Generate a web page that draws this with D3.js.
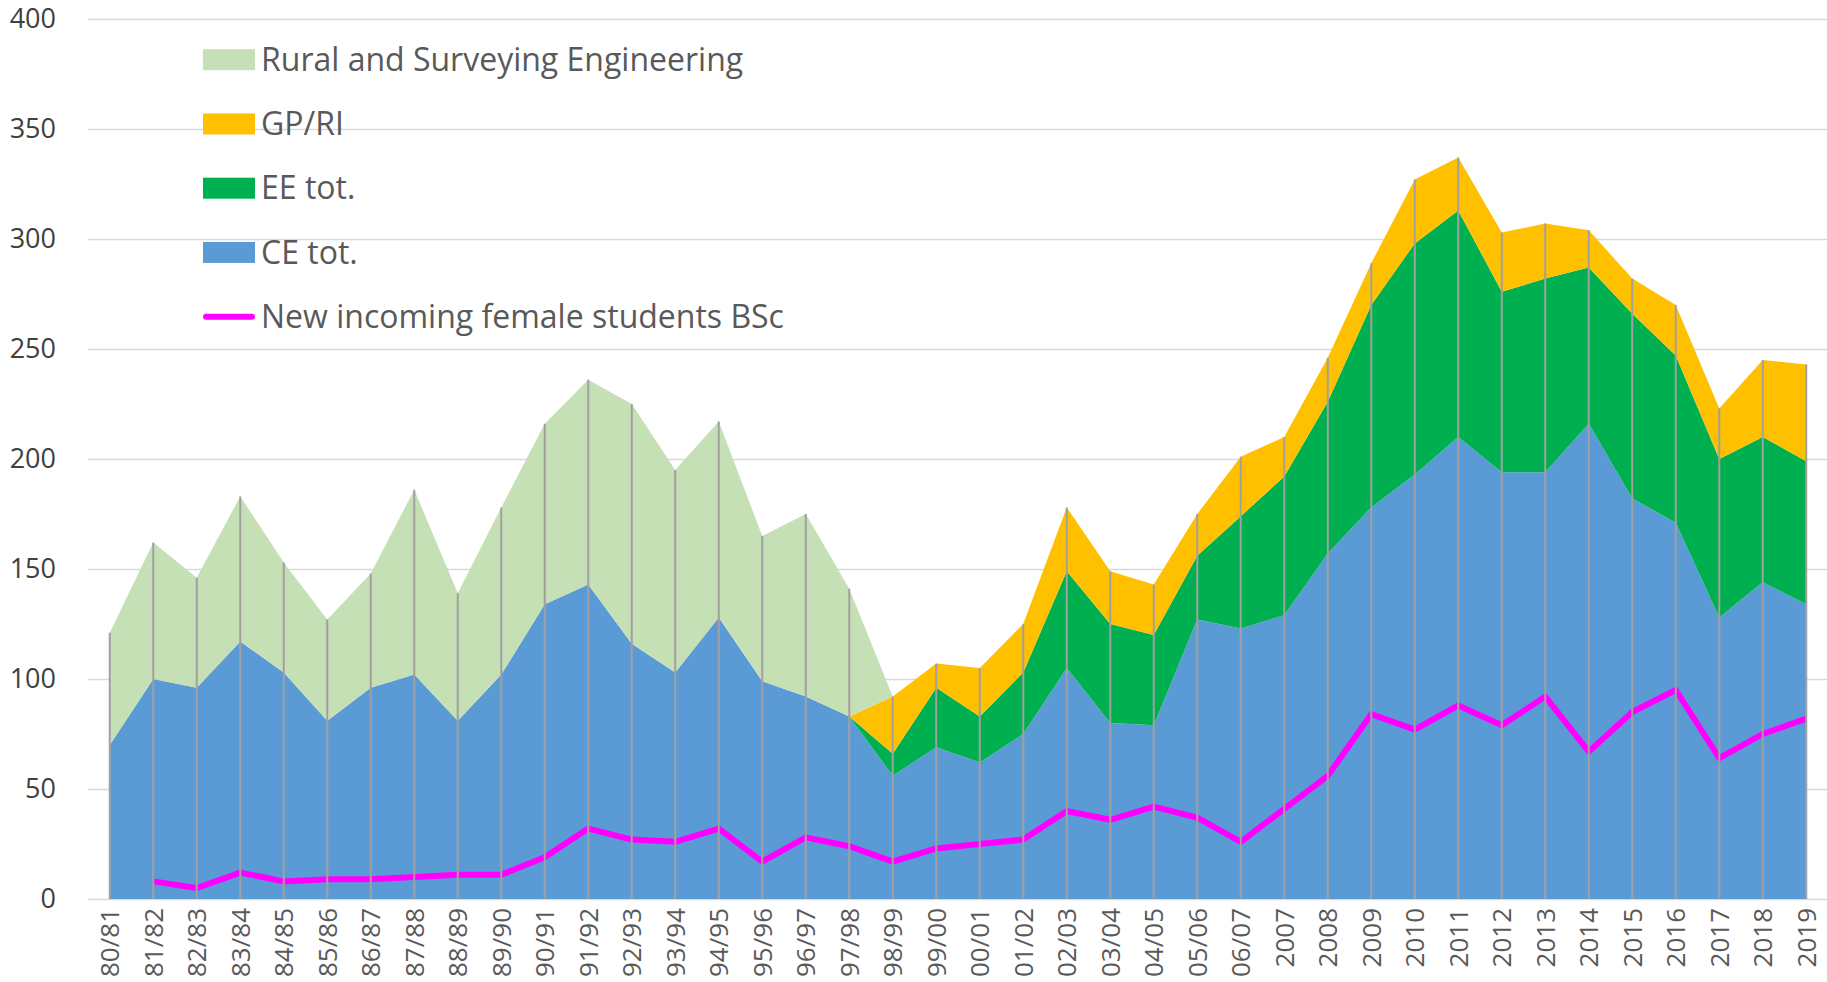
<!DOCTYPE html>
<html>
<head>
	<meta charset="utf-8">
	<title>Students</title>
	<script src="https://d3js.org/d3.v7.min.js"></script>
	<style>
		body {
		  margin: 0;
		  background: #fff;
		}
		svg {
		  display: block;
		}
		text {
		  font-family: 'Open Sans', sans-serif;
		  fill: #595959;
		}
		.grid line {
		  stroke: #D9D9D9;
		  stroke-width: 1.5;
		}
		.grid text {
		  font-size: 27px;
		  fill: #404040;
		}
		.xaxis text {
		  font-size: 26px;
		}
		.drop {
		  stroke: #A0A0A0;
		  stroke-width: 2;
		}
		.female {
		  fill: none;
		  stroke: #FF00FF;
		  stroke-width: 6;
		  stroke-linejoin: round;
		}
		.legend text {
		  font-size: 32px;
		}
	</style>
</head>
<body>
	<svg width="1827" height="982"></svg>
<script>
	// categories on the x axis
	const years = [ '80/81', '81/82', '82/83', '83/84', '84/85', '85/86', '86/87', '87/88', '88/89', '89/90',
	  '90/91', '91/92', '92/93', '93/94', '94/95', '95/96', '96/97', '97/98', '98/99', '99/00',
	  '00/01', '01/02', '02/03', '03/04', '04/05', '05/06', '06/07', '2007', '2008', '2009',
	  '2010', '2011', '2012', '2013', '2014', '2015', '2016', '2017', '2018', '2019' ];

	// stacked series (bottom to top)
	const ceTot = [ 70, 100, 96, 117, 103, 81, 96, 102, 81, 102,
	  134, 143, 116, 103, 128, 99, 92, 83, 56, 69,
	  62, 75, 105, 80, 79, 127, 123, 129, 157, 178,
	  193, 210, 194, 194, 216, 182, 171, 128, 144, 134 ];
	const eeTot = [ 0, 0, 0, 0, 0, 0, 0, 0, 0, 0,
	  0, 0, 0, 0, 0, 0, 0, 0, 10, 27,
	  21, 28, 44, 45, 41, 29, 51, 63, 69, 92,
	  105, 103, 82, 88, 71, 84, 76, 72, 66, 65 ];
	const gpRi = [ 0, 0, 0, 0, 0, 0, 0, 0, 0, 0,
	  0, 0, 0, 0, 0, 0, 0, 0, 26, 11,
	  22, 22, 29, 24, 23, 19, 27, 18, 20, 19,
	  29, 24, 27, 25, 17, 16, 23, 23, 35, 44 ];
	const rural = [ 51, 62, 50, 66, 50, 46, 52, 84, 58, 76,
	  82, 93, 109, 92, 89, 66, 83, 58, 0, 0,
	  0, 0, 0, 0, 0, 0, 0, 0, 0, 0,
	  0, 0, 0, 0, 0, 0, 0, 0, 0, 0 ];

	// line series (no value for the first year)
	const female = [ null, 8, 5, 12, 8, 9, 9, 10, 11, 11,
	  19, 32, 27, 26, 32, 17, 28, 24, 17, 23,
	  25, 27, 40, 36, 42, 37, 26, 41, 56, 84,
	  77, 88, 79, 92, 67, 85, 95, 64, 75, 82 ];

	const yTicks = [ 0, 50, 100, 150, 200, 250, 300, 350, 400 ];

	const keys = [ 'ce', 'ee', 'gp', 'rural' ];
	const colors = { ce: '#5B9BD5', ee: '#00B050', gp: '#FFC000', rural: '#C5E0B4' };

	const rows = years.map( ( yr, i ) => ( { year: yr, ce: ceTot[i], ee: eeTot[i], gp: gpRi[i], rural: rural[i] } ) );

	const svg = d3.select( 'svg' );

	const plotLeft = 88, plotRight = 1827, plotTop = 19, plotBottom = 899;

	const x = d3.scalePoint()
	  .domain( years )
	  .range( [ plotLeft, plotRight + 1 ] )
	  .padding( 0.5 );

	const y = d3.scaleLinear()
	  .domain( [ 0, 400 ] )
	  .range( [ plotBottom, plotTop ] );

	// gridlines + y labels
	const grid = svg.append( 'g' )
	  .attr( 'class', 'grid' )
	  .attr( 'transform', `translate( ${ plotLeft }, 0 )` )
	  .call( d3.axisLeft( y )
	    .tickValues( yTicks )
	    .tickSizeInner( -( plotRight - plotLeft ) )
	    .tickSizeOuter( 0 )
	    .tickPadding( 32 ) );
	grid.select( '.domain' ).remove();

	const stacked = d3.stack().keys( keys )( rows );

	const area = d3.area()
	  .x( ( d ) => x( d.data.year ) )
	  .y0( ( d ) => y( d[0] ) )
	  .y1( ( d ) => y( d[1] ) );

	svg.append( 'g' )
	  .selectAll( 'path' )
	  .data( stacked )
	  .join( 'path' )
	  .attr( 'fill', ( s ) => colors[ s.key ] )
	  .attr( 'd', area );

	// female students line
	const line = d3.line()
	  .defined( ( d ) => d !== null )
	  .x( ( d, i ) => x( years[i] ) )
	  .y( ( d ) => y( d ) );

	svg.append( 'path' )
	  .attr( 'class', 'female' )
	  .attr( 'd', line( female ) );

	// drop lines from the top of the stack
	const tops = stacked[ stacked.length - 1 ];
	svg.append( 'g' )
	  .selectAll( 'line' )
	  .data( tops )
	  .join( 'line' )
	  .attr( 'class', 'drop' )
	  .attr( 'x1', ( d ) => x( d.data.year ) )
	  .attr( 'x2', ( d ) => x( d.data.year ) )
	  .attr( 'y1', y( 0 ) )
	  .attr( 'y2', ( d ) => y( d[1] ) );

	// x axis labels
	const xAxis = svg.append( 'g' )
	  .attr( 'class', 'xaxis' )
	  .attr( 'transform', `translate( 0, ${ plotBottom } )` )
	  .call( d3.axisBottom( x ).tickSize( 0 ) );
	xAxis.select( '.domain' ).remove();
	xAxis.selectAll( 'text' )
	  .attr( 'transform', 'rotate(-90)' )
	  .attr( 'x', -9 )
	  .attr( 'y', 0 )
	  .attr( 'dy', '0.35em' )
	  .attr( 'text-anchor', 'end' );

	// legend
	const legendItems = [
	  { label: 'Rural and Surveying Engineering', key: 'rural' },
	  { label: 'GP/RI', key: 'gp' },
	  { label: 'EE tot.', key: 'ee' },
	  { label: 'CE tot.', key: 'ce' },
	  { label: 'New incoming female students BSc', key: 'line' }
	];

	const legend = svg.append( 'g' )
	  .attr( 'class', 'legend' )
	  .selectAll( 'g' )
	  .data( legendItems )
	  .join( 'g' )
	  .attr( 'transform', ( d, i ) => `translate( 203, ${ 59.7 + i * 64.25 } )` );

	legend.filter( ( d ) => d.key !== 'line' )
	  .append( 'rect' )
	  .attr( 'x', 0 )
	  .attr( 'y', -10.5 )
	  .attr( 'width', 52 )
	  .attr( 'height', 21 )
	  .attr( 'fill', ( d ) => colors[ d.key ] );

	legend.filter( ( d ) => d.key === 'line' )
	  .append( 'line' )
	  .attr( 'x1', 3 )
	  .attr( 'x2', 49 )
	  .attr( 'stroke', '#FF00FF' )
	  .attr( 'stroke-width', 6 )
	  .attr( 'stroke-linecap', 'round' );

	legend.append( 'text' )
	  .attr( 'x', 58 )
	  .attr( 'dy', '0.35em' )
	  .text( ( d ) => d.label );
</script>
</body>
</html>
